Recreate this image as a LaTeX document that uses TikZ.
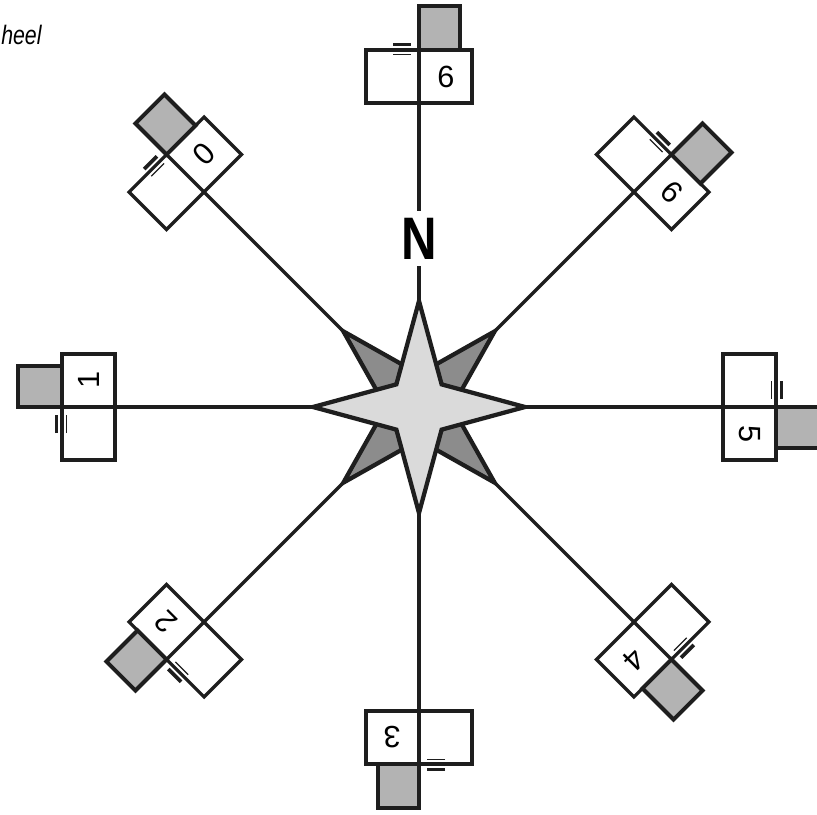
\documentclass[tikz,border=0pt]{standalone}
\usepackage[svgnames]{xcolor}
\usepackage{fontspec}
\usepackage{tikz}

\setmainfont{Liberation Sans}
\newfontfamily\bignfont[FakeStretch=0.82]{Liberation Sans}
\newfontfamily\titlefont[FakeStretch=0.8]{Liberation Sans}

\definecolor{inkline}{HTML}{1E1E1E}
\definecolor{boxgray}{HTML}{B3B3B3}
\definecolor{stardark}{HTML}{8C8C8C}
\definecolor{starlight}{HTML}{DADADA}

\begin{document}
\begin{tikzpicture}[
            x = 0.75pt, y = 0.75pt, % one unit is one pixel
            line join = miter,
            boxline/.style = {draw = inkline, line width = 2.5pt},
            grayline/.style = {draw = inkline, line width = 3pt, fill = boxgray},
            spoke/.style = {draw = inkline, line width = 2.4pt},
            starline/.style = {draw = inkline, line width = 3.2pt},
            digit/.style = {font = \fontsize{23}{23}\selectfont, inner sep = 0pt},
            unit/.pic = {
                \draw[boxline] (-53,304) rectangle (53,357);
                \draw[grayline] (0,357) rectangle (41,401);
                \draw[inkline, line width = 2.8pt] (-26,362.5) -- (-8,362.5);
                \draw[inkline, line width = 1pt] (-26,352.5) -- (-8,352.5);
                \node[digit, transform shape] (-num) at (27,330.5) {#1};
                \coordinate (-end) at (0,357);
            },
        ]

  \useasboundingbox (-419,-407) rectangle (398,407);

  \node[anchor = base west, inner sep = 0pt] (title) at (-418,362)
       {\titlefont\fontsize{20}{20}\selectfont\itshape heel};

  % the eight boxes round the star
  \pic[rotate = 0] (n) at (0,0) {unit=6};
  \pic[rotate = -45] (ne) at (0,0) {unit=6};
  \pic[rotate = -90] (e) at (0,0) {unit=5};
  \pic[rotate = -135] (se) at (0,0) {unit=4};
  \pic[rotate = 180] (s) at (0,0) {unit=3};
  \pic[rotate = 135] (sw) at (0,0) {unit=2};
  \pic[rotate = 90] (w) at (0,0) {unit=1};
  \pic[rotate = 45] (nw) at (0,0) {unit=0};

  \coordinate (c) at (0,0);

  \draw[spoke] (c) -- (n-end);
  \draw[spoke] (c) -- (ne-end);
  \draw[spoke] (c) -- (e-end);
  \draw[spoke] (c) -- (se-end);
  \draw[spoke] (c) -- (s-end);
  \draw[spoke] (c) -- (sw-end);
  \draw[spoke] (c) -- (w-end);
  \draw[spoke] (c) -- (nw-end);

  % compass star
  \draw[starline, fill = stardark] (135:107) -- (90:33) -- (45:107) -- (0:33)
       -- (-45:107) -- (-90:33) -- (-135:107) -- (180:33) -- cycle;
  \draw[starline, fill = starlight] (90:106) -- (45:32) -- (0:106) -- (-45:32)
       -- (-90:106) -- (-135:32) -- (180:106) -- (135:32) -- cycle;

  \node[fill = white, inner sep = 5pt] (north) at (0,168.5)
       {\bignfont\bfseries\fontsize{45}{45}\selectfont N};

\end{tikzpicture}
\end{document}
